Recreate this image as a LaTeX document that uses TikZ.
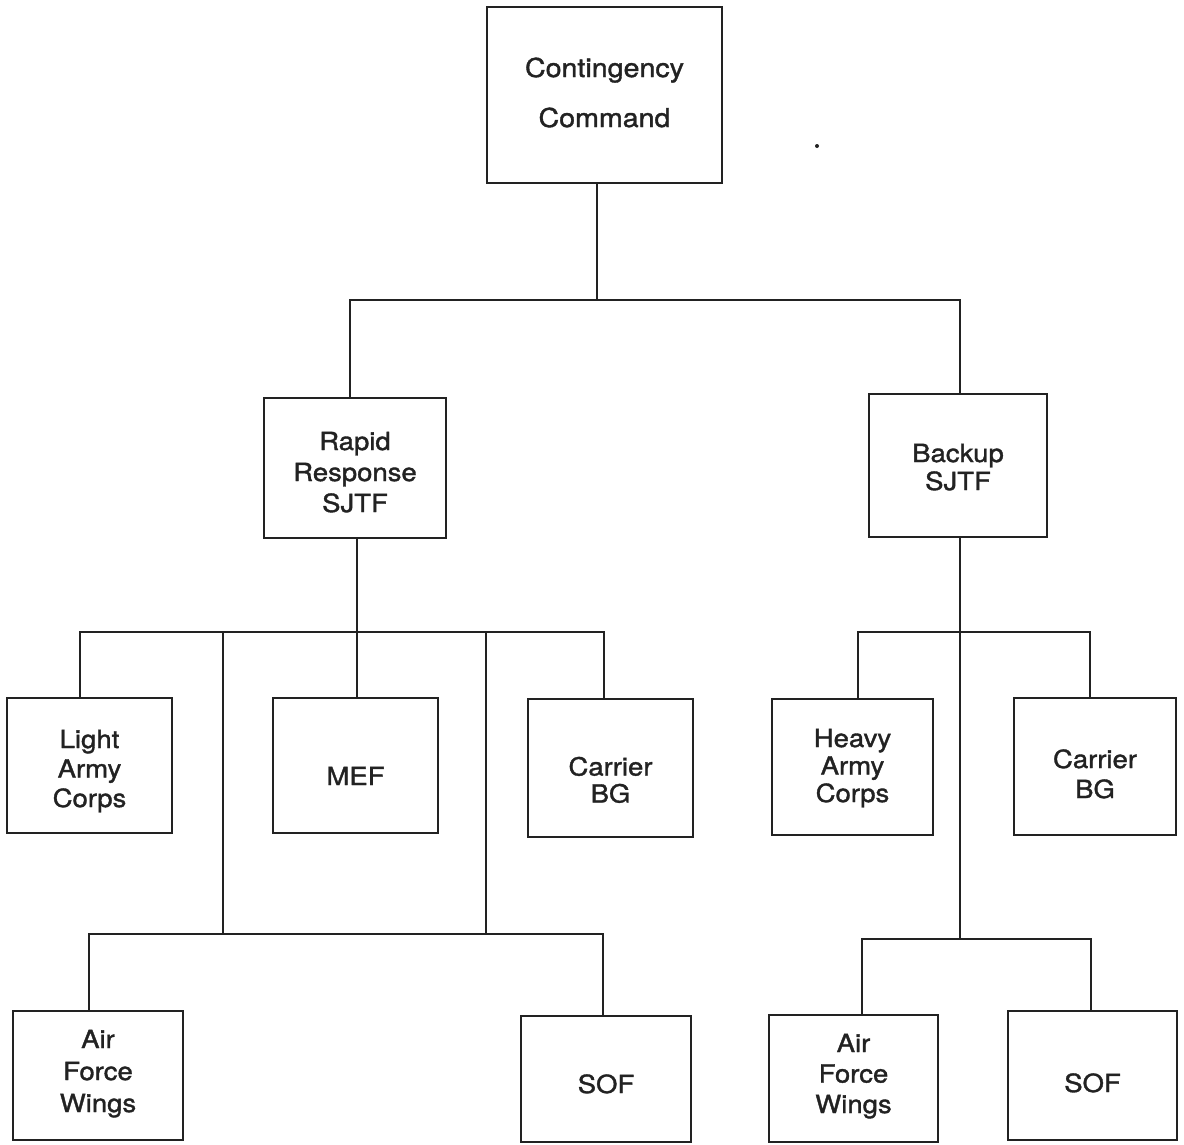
\documentclass[tikz,border=0pt]{standalone}
\usepackage{fontspec}
\setmainfont{TeX Gyre Heros}[FakeStretch=1.1, FakeBold=1.4]
\definecolor{ink}{HTML}{222222}
\tikzset{
  box/.style={draw=ink, line width=2.1pt, rectangle, inner sep=0pt, outer sep=0pt,
    align=center, text=ink, font=\fontsize{25}{30}\selectfont},
  sz/.style 2 args={minimum width=#1pt, minimum height=#2pt},
  tb/.style 2 args={text height=#1pt, text depth=#2pt},
  ls/.style={font=\fontsize{25}{#1}\selectfont},
  link/.style={draw=ink, line width=2.1pt},
}
\begin{document}
\begin{tikzpicture}[x=1pt, y=-1pt]
\useasboundingbox (0,0) rectangle (1184,1144);
\fill[white] (0,0) rectangle (1184,1144);

% boxes
\node[box, sz={235}{176}, tb={70}{6}, font=\fontsize{26}{50}\selectfont] (top) at (604.5,95) {Contingency\\Command};
\node[box, sz={182}{140}, tb={94}{6}, ls=31] (rapid) at (355,468) {Rapid\\Response\\SJTF};
\node[box, sz={178}{143}, tb={55}{6}, ls=28] (backup) at (958,465.5) {Backup\\SJTF};
\node[box, sz={165}{135}, tb={89}{6}, ls=29.5] (light) at (89.5,765.5) {Light\\Army\\Corps};
\node[box, sz={165}{135}, tb={45}{6}] (mef) at (355.5,765.5) {MEF};
\node[box, sz={165}{138}, tb={75}{6}, ls=27] (carL) at (610.5,768) {Carrier\\BG};
\node[box, sz={161}{136}, tb={76}{6}, ls=27.5] (heavy) at (852.5,767) {Heavy\\Army\\Corps};
\node[box, sz={162}{137}, tb={69}{6}, ls=30] (carR) at (1095,766.5) {Carrier\\BG};
\node[box, sz={170}{129}, tb={79}{6}, ls=32] (airL) at (98,1075.5) {Air\\Force\\Wings};
\node[box, sz={170}{126}, tb={34}{6}] (sofL) at (606,1079) {SOF};
\node[box, sz={169}{127}, tb={75}{6}, ls=30.5] (airR) at (853.5,1078.5) {Air\\Force\\Wings};
\node[box, sz={169}{129}, tb={39}{6}] (sofR) at (1092.5,1075.5) {SOF};

% stray dot
\node[circle, fill=ink, inner sep=0pt, minimum size=4pt] (dot) at (817,146) {};

% bus junctions
\coordinate (j0) at (597,300);
\coordinate (j0L) at (350,300);
\coordinate (j0R) at (960,300);

\coordinate (l2a) at (80,632);
\coordinate (l2b) at (223,632);
\coordinate (l2c) at (357,632);
\coordinate (l2d) at (486,632);
\coordinate (l2e) at (604,632);

\coordinate (l3a) at (89,934);
\coordinate (l3b) at (223,934);
\coordinate (l3c) at (486,934);
\coordinate (l3d) at (603,934);

\coordinate (r2a) at (858,632);
\coordinate (r2b) at (1090,632);
\coordinate (r3a) at (862,939);
\coordinate (r3b) at (1091,939);
\coordinate (r3m) at (960,939);

% connectors
\draw[link] (top.south -| j0) -- (j0);
\draw[link] (rapid.north -| j0L) -- (j0L) -- (j0R) -- (backup.north -| j0R);

\draw[link] (rapid.south -| l2c) -- (mef.north -| l2c);
\draw[link] (light.north -| l2a) -- (l2a) -- (l2e) -- (carL.north -| l2e);
\draw[link] (l2b) -- (l3b);
\draw[link] (l2d) -- (l3c);
\draw[link] (airL.north -| l3a) -- (l3a) -- (l3d) -- (sofL.north -| l3d);

\draw[link] (backup.south -| r3m) -- (r3m);
\draw[link] (heavy.north -| r2a) -- (r2a) -- (r2b) -- (carR.north -| r2b);
\draw[link] (airR.north -| r3a) -- (r3a) -- (r3b) -- (sofR.north -| r3b);
\end{tikzpicture}
\end{document}
